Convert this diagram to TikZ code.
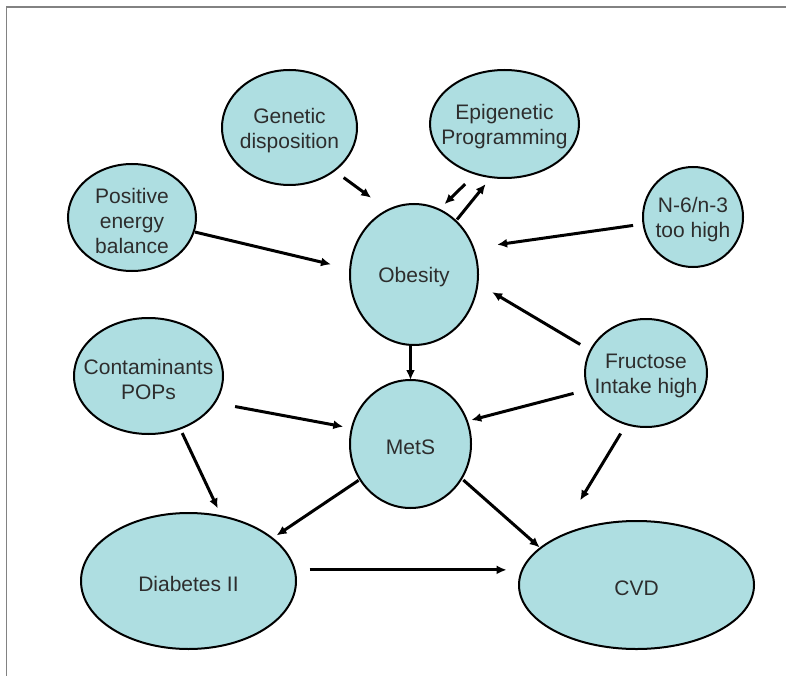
\documentclass[tikz,border=0pt]{standalone}
\usepackage{fontspec}
\setmainfont{Liberation Sans}
\usetikzlibrary{shapes.geometric,arrows.meta}
\definecolor{bubble}{RGB}{174,222,225}
\definecolor{inktext}{RGB}{45,45,45}
\definecolor{framegray}{RGB}{130,130,130}
\tikzset{
  bubble/.style={ellipse, draw=black, line width=2pt, fill=bubble,
    inner sep=0pt, outer sep=0pt},
  lbl/.style={text=inktext, align=center, font=\fontsize{21}{25}\selectfont},
  arr/.style={line width=3pt, -{Latex[length=10pt,width=9pt]}},
}
\newcommand{\bubblenode}[6]{%
  \node[bubble, minimum width=#4pt, minimum height=#5pt] (#1) at (#2,#3) {};
  \node[lbl] (#1-t) at ([yshift=-3pt]#1.center) {#6};
}
\begin{document}
\begin{tikzpicture}[x=1pt,y=-1pt]
\useasboundingbox (0,0) rectangle (786,676);
% page frame
\draw[framegray, line width=1.5pt] (6.5,676) -- (6.5,7) -- (786,7);

% bubbles: name, centre x, centre y, width, height, text
\bubblenode{gen}{289.5}{127.5}{135}{115}{Genetic\\disposition}
\bubblenode{peb}{132}{217.5}{128}{107}{Positive\\energy\\balance}
\bubblenode{epi}{504.5}{124}{149}{108}{Epigenetic\\Programming}
\bubblenode{nsix}{693}{217}{100}{100}{N-6/n-3\\too high}
\bubblenode{ob}{414}{274.5}{128}{141}{Obesity}
\bubblenode{mets}{410.5}{444}{121}{128}{MetS}
\bubblenode{con}{148.5}{376}{149}{116}{Contaminants\\POPs}
\bubblenode{fru}{646}{373}{122}{108}{Fructose\\Intake high}
\bubblenode{dia}{188.5}{581}{215}{136}{Diabetes II}
\bubblenode{cvd}{636.5}{585}{235}{128}{CVD}

% influences
\draw[arr, shorten <=11.8pt, shorten >=20.8pt] (gen.-44.8) -- (ob.112);
\draw[arr, shorten <=1.3pt, shorten >=19.7pt] (peb.-13) -- (ob.175.7);
\draw[arr, shorten <=14.8pt, shorten >=7.7pt] (epi.-120) -- (ob.69.5);
\draw[arr, shorten <=2pt, shorten >=8.9pt] (ob.52.2) -- (epi.-104.7);
\draw[arr, shorten <=10.5pt, shorten >=24pt] (nsix.-172.5) -- (ob.24.7);
\draw[arr, shorten <=12pt, shorten >=17pt] (fru.158.5) -- (ob.-8.8);
\draw[arr] (mets.north |- ob.south) -- (mets.north);
\draw[arr, shorten <=20.8pt, shorten >=8.7pt] (con.-22.2) -- (mets.165);
\draw[arr, shorten <=14.9pt, shorten >=4.4pt] (fru.-164.7) -- (mets.22.8);
\draw[arr, shorten <=5pt, shorten >=8.6pt] (con.-59.5) -- (dia.63.9);
\draw[arr, shorten <=1.8pt, shorten >=5.2pt] (mets.-145.4) -- (dia.27.4);
\draw[arr, shorten <=2.4pt, shorten >=1pt] (mets.-34) -- (cvd.159.5);
\draw[arr, shorten <=11pt, shorten >=43.5pt] (fru.-111.7) -- (cvd.149.7);
\draw[arr, shorten <=15.2pt, shorten >=17.1pt] (dia.6.86) -- (dia.6.86 -| cvd.171.6);
\end{tikzpicture}
\end{document}
